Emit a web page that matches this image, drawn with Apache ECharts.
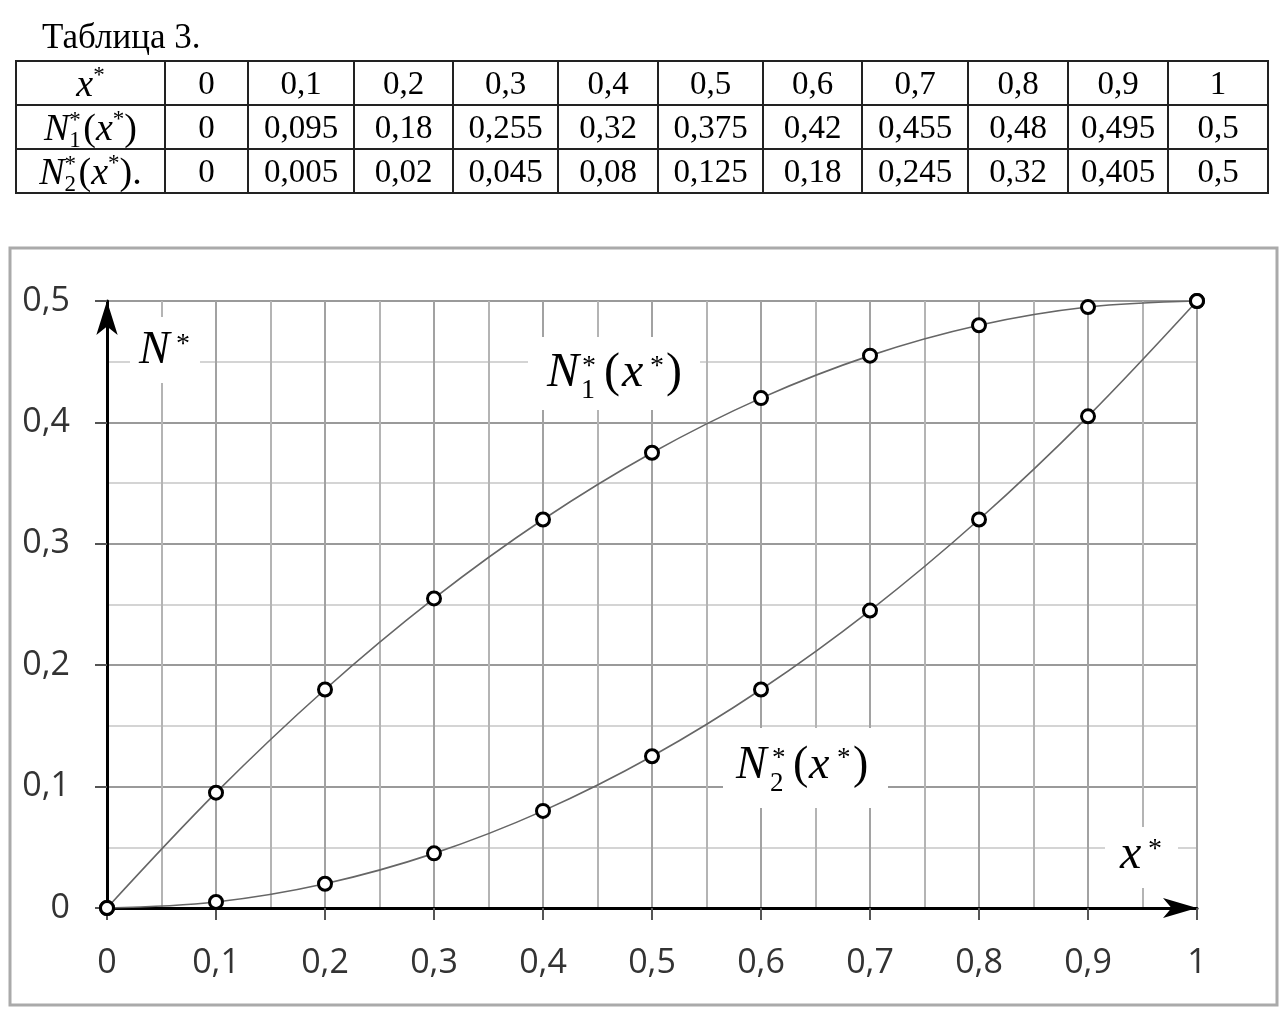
<!DOCTYPE html>
<html>
<head>
<meta charset="utf-8">
<script src="https://cdn.jsdelivr.net/npm/echarts@6/dist/echarts.min.js"></script>
<style>
    body { margin: 0; background: #fff; }
    #main { position: absolute; left: 0; top: 0; width: 1284px; height: 1017px; }
    #title { position: absolute; left: 42px; top: 17px; font: 35px "Liberation Serif"; color: #000; }
    #tbl { position: absolute; left: 15px; top: 60px; border-collapse: collapse; table-layout: fixed;
           width: 1252px; font: 33px "Liberation Serif"; color: #000; }
    #tbl td { border: 2px solid #222; height: 42px; padding: 0; text-align: center; line-height: 1;
              vertical-align: middle; overflow: hidden; }
    .m { font-size: 38px; line-height: 1; }
    .m i { font-style: italic; }
    .ss { display: inline-block; position: relative; width: 14px; height: 1px; }
    .ss span { position: absolute; left: 0; font-size: 23px; line-height: 1; }
    .ss .up { top: -31px; }
    .ss .dn { top: -11px; }
    .sp { position: relative; top: -14px; font-size: 23px; }
</style>
</head>
<body>
<div id="main"></div>
<div id="title">Таблица 3.</div>
<table id="tbl">
    <colgroup id="cols"></colgroup>
    <tbody id="tb"></tbody>
</table>
<script>
// значения x* и две кривые из таблицы 3
let xs = [0, 0.1, 0.2, 0.3, 0.4, 0.5, 0.6, 0.7, 0.8, 0.9, 1];
let n1 = [0, 0.095, 0.18, 0.255, 0.32, 0.375, 0.42, 0.455, 0.48, 0.495, 0.5];
let n2 = [0, 0.005, 0.02, 0.045, 0.08, 0.125, 0.18, 0.245, 0.32, 0.405, 0.5];

// подписи строк таблицы
let rowHeads = [
    '<span class="m"><i>x</i><span class="sp">*</span></span>',
    '<span class="m"><i>N</i><span class="ss"><span class="up">*</span><span class="dn">1</span></span>(<i>x</i><span class="sp">*</span>)</span>',
    '<span class="m"><i>N</i><span class="ss"><span class="up">*</span><span class="dn">2</span></span>(<i>x</i><span class="sp">*</span>).</span>'
];
let colW = [149, 83, 106, 99, 105, 100, 105, 99, 106, 100, 100, 100];

function fmt(v) {
    return String(v).replace('.', ',');
}

// строим таблицу
let cols = document.getElementById('cols');
for (let i = 0; i < colW.length; i++) {
    let c = document.createElement('col');
    c.style.width = colW[i] + 'px';
    cols.appendChild(c);
}
let rows = [xs, n1, n2];
let tb = document.getElementById('tb');
for (let r = 0; r < rows.length; r++) {
    let tr = document.createElement('tr');
    let html = '<td>' + rowHeads[r] + '</td>';
    for (let i = 0; i < rows[r].length; i++) {
        html += '<td>' + fmt(rows[r][i]) + '</td>';
    }
    tr.innerHTML = html;
    tb.appendChild(tr);
}

// кусок формулы: текст, x, базовая линия, размер, курсив
function piece(t, x, base, size, italic) {
    return {
        type: 'text', x: x, y: base - 0.34 * size, z: 10,
        style: {
            text: t, fill: '#000', align: 'left', verticalAlign: 'middle',
            font: (italic ? 'italic ' : '') + size + 'px "Liberation Serif"'
        }
    };
}
function box(x, y, w, h) {
    return { type: 'rect', z: 9, shape: { x: x, y: y, width: w, height: h }, style: { fill: '#fff' } };
}

let myChart = echarts.init(document.getElementById('main'));

let option = {
    animation: false,
    grid: { left: 107, right: 87, top: 301, bottom: 109 },
    xAxis: {
        type: 'value', min: 0, max: 1, interval: 0.1,
        axisLine: {
            lineStyle: { color: '#000', width: 3 },
            symbol: ['none', 'arrow'], symbolSize: [15, 34], symbolOffset: [0, 0]
        },
        axisTick: { length: 12, lineStyle: { color: '#555', width: 2 } },
        minorTick: { show: false, splitNumber: 2 },
        splitLine: { lineStyle: { color: '#a2a2a2', width: 2 } },
        minorSplitLine: { show: true, lineStyle: { color: '#b4b4b4', width: 2 } },
        axisLabel: {
            margin: 38, color: '#333', fontSize: 34, fontFamily: 'Open Sans',
            formatter: fmt
        }
    },
    yAxis: {
        type: 'value', min: 0, max: 0.5, interval: 0.1,
        axisLine: {
            lineStyle: { color: '#000', width: 3 },
            symbol: ['none', 'arrow'], symbolSize: [16, 34], symbolOffset: [0, 0]
        },
        axisTick: { length: 12, lineStyle: { color: '#555', width: 2 } },
        minorTick: { show: false, splitNumber: 2 },
        splitLine: { lineStyle: { color: '#9a9a9a', width: 2 } },
        minorSplitLine: { show: true, lineStyle: { color: '#d4d4d4', width: 2 } },
        axisLabel: {
            margin: 37, color: '#333', fontSize: 34, fontFamily: 'Open Sans',
            formatter: fmt
        }
    },
    series: [{
        name: 'N1', type: 'line', smooth: 0.35,
        data: xs.map(function (x, i) { return [x, n1[i]]; }),
        symbol: 'circle', symbolSize: 13,
        itemStyle: { color: '#fff', borderColor: '#000', borderWidth: 3 },
        lineStyle: { color: '#666', width: 1.6 }
    }, {
        name: 'N2', type: 'line', smooth: 0.35,
        data: xs.map(function (x, i) { return [x, n2[i]]; }),
        symbol: 'circle', symbolSize: 13,
        itemStyle: { color: '#fff', borderColor: '#000', borderWidth: 3 },
        lineStyle: { color: '#666', width: 1.6 }
    }],
    graphic: [
        // рамка рисунка
        { type: 'rect', z: 0, shape: { x: 10, y: 248, width: 1267, height: 757 },
          style: { fill: 'none', stroke: '#aaa', lineWidth: 3 } },
        // N*
        box(130, 317, 70, 66),
        piece('N', 139, 367, 46, true),
        piece('*', 176, 354, 28, false),
        // N1*(x*)
        box(528, 337, 172, 73),
        piece('N', 547, 390, 48, true),
        piece('*', 582, 376, 28, false),
        piece('1', 581, 400, 28, false),
        piece('(', 604, 390, 48, false),
        piece('x', 622, 390, 48, true),
        piece('*', 650, 376, 28, false),
        piece(')', 666, 390, 48, false),
        // N2*(x*)
        box(723, 728, 165, 80),
        piece('N', 736, 782, 46, true),
        piece('*', 772, 768, 27, false),
        piece('2', 770, 793, 27, false),
        piece('(', 793, 782, 46, false),
        piece('x', 809, 782, 46, true),
        piece('*', 837, 768, 27, false),
        piece(')', 853, 782, 46, false),
        // x*
        box(1105, 827, 73, 61),
        piece('x', 1120, 872, 48, true),
        piece('*', 1148, 859, 28, false)
    ]
};

myChart.setOption(option);
</script>
</body>
</html>
